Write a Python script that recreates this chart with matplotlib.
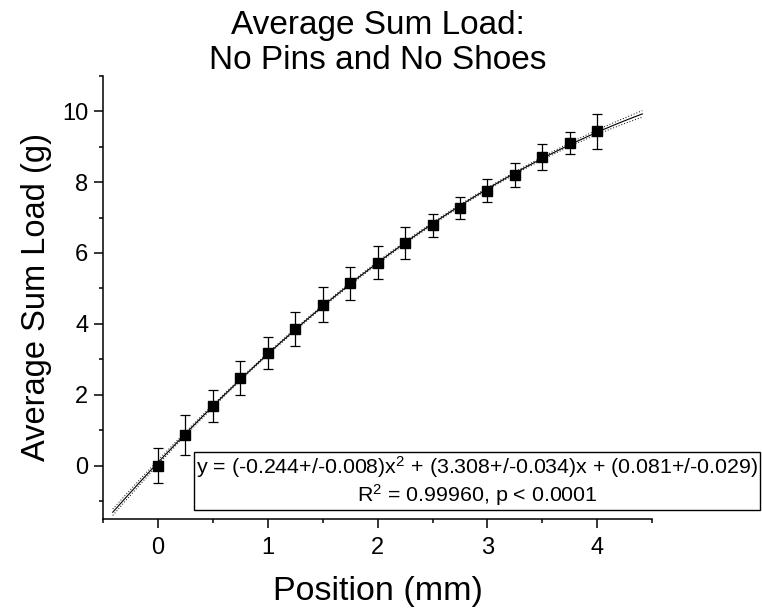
import numpy as np
import matplotlib
matplotlib.use("Agg")
import matplotlib.pyplot as plt
from matplotlib.ticker import MultipleLocator

plt.rcParams['font.family'] = ['Liberation Sans', 'DejaVu Sans']
plt.rcParams['mathtext.fontset'] = 'custom'
plt.rcParams['mathtext.rm'] = 'Liberation Sans'
plt.rcParams['mathtext.default'] = 'regular'

# data
position = [0.0, 0.25, 0.5, 0.75, 1.0, 1.25, 1.5, 1.75, 2.0,
            2.25, 2.5, 2.75, 3.0, 3.25, 3.5, 3.75, 4.0]
load = [0.0, 0.87, 1.69, 2.47, 3.18, 3.85, 4.54, 5.14, 5.73,
        6.27, 6.78, 7.27, 7.76, 8.20, 8.70, 9.10, 9.43]
load_err = [0.49, 0.56, 0.45, 0.48, 0.45, 0.48, 0.49, 0.47, 0.47,
            0.45, 0.32, 0.32, 0.33, 0.35, 0.37, 0.30, 0.50]

# reported quadratic fit
coef = [-0.244, 3.308, 0.081]
fit_range = [-0.41, 4.41]

x = np.array(position)
y = np.array(load)

fig = plt.figure(figsize=(7.62, 6.11), dpi=100)
ax = fig.add_axes([0.135, 0.151, 0.721, 0.725])

# fit line + 95% confidence band from the data covariance
xf = np.linspace(fit_range[0], fit_range[1], 200)
yf = np.polyval(coef, xf)
_, cov = np.polyfit(x, y, 2, cov=True)
J = np.vstack([xf**2, xf, np.ones_like(xf)]).T
se = np.sqrt(np.einsum('ij,jk,ik->i', J, cov, J))
band = 2.145 * se
ax.plot(xf, yf, color='black', lw=0.8, zorder=2)
ax.plot(xf, yf + band, color='black', lw=0.7, ls=(0, (1, 2)), zorder=2)
ax.plot(xf, yf - band, color='black', lw=0.7, ls=(0, (1, 2)), zorder=2)

ax.errorbar(x, y, yerr=load_err, fmt='s', color='black', ms=7,
            ecolor='black', elinewidth=0.9, capsize=3.3, capthick=0.9, zorder=3)

ax.set_xlim(-0.5, 4.5)
ax.set_ylim(-1.5, 11)
ax.xaxis.set_major_locator(MultipleLocator(1))
ax.xaxis.set_minor_locator(MultipleLocator(0.5))
ax.yaxis.set_major_locator(MultipleLocator(2))
ax.yaxis.set_minor_locator(MultipleLocator(1))

for s in ['top', 'right']:
    ax.spines[s].set_visible(False)
for s in ['left', 'bottom']:
    ax.spines[s].set_linewidth(1.1)
ax.tick_params(which='major', length=6.5, width=1.1, labelsize=17)
ax.tick_params(which='minor', length=3, width=1.1)
ax.tick_params(axis='x', which='major', pad=7)
ax.tick_params(axis='y', which='major', pad=4)

ax.set_xlabel('Position (mm)', fontsize=24.5, labelpad=12)
ax.set_ylabel('Average Sum Load (g)', fontsize=23.5, labelpad=7)
ax.set_title('Average Sum Load:\nNo Pins and No Shoes', fontsize=24,
             linespacing=1.15, pad=0)

eq = ('y = (-0.244+/-0.008)x$^{2}$ + (3.308+/-0.034)x + (0.081+/-0.029)\n'
      'R$^{2}$ = 0.99960, p < 0.0001')
fig.text(0.626, 0.212, eq, fontsize=15.4, ha='center', va='center',
         multialignment='center', linespacing=1.1,
         bbox=dict(boxstyle='square,pad=0.1', fc='white', ec='black', lw=1.0))

fig.savefig('out.png', dpi=100)
